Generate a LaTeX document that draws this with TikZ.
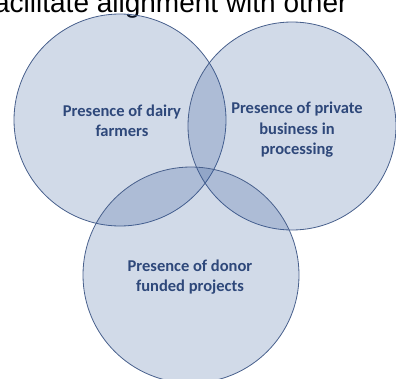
\documentclass[tikz,border=0pt]{standalone}
\usepackage{fontspec}
\setmainfont{Carlito}
\newfontfamily\arialfont{Liberation Sans}
\usetikzlibrary{positioning}
\definecolor{vennfill}{RGB}{47,85,151}
\definecolor{vennline}{RGB}{72,96,140}
\definecolor{venntext}{RGB}{46,72,122}

\begin{document}
\begin{tikzpicture}[x=1pt, y=-1pt,
    venn/.style={circle, draw=vennline, line width=0.8pt, fill=vennfill,
      fill opacity=0.22, draw opacity=1, inner sep=0pt},
    venn label/.style={align=center, text=venntext,
      font=\fontsize{16.5}{20.5}\selectfont\bfseries}]
    \useasboundingbox (0,0) rectangle (396,378);
    \clip (0,0) rectangle (396,378);
    %
    \node [anchor=base east, font=\arialfont\fontsize{28}{32}\selectfont] (caption) at (351,12) {facilitate alignment with other};
    %
    \node [venn, minimum size=212pt] (dairy) at (120,120) {};
    \node [venn, minimum size=208pt] (private) at (292,126) {};
    \node [venn, minimum size=216pt] (donor) at (191,275) {};
    %
    \node [venn label] (dairy text) at ([xshift=2pt, yshift=-1pt]dairy) {Presence of dairy\\farmers};
    \node [venn label] (private text) at ([xshift=5pt, yshift=-4pt]private) {Presence of private\\business in\\processing};
    \node [venn label] (donor text) at ([xshift=-1pt, yshift=-2pt]donor) {Presence of donor\\funded projects};
\end{tikzpicture}
\end{document}
